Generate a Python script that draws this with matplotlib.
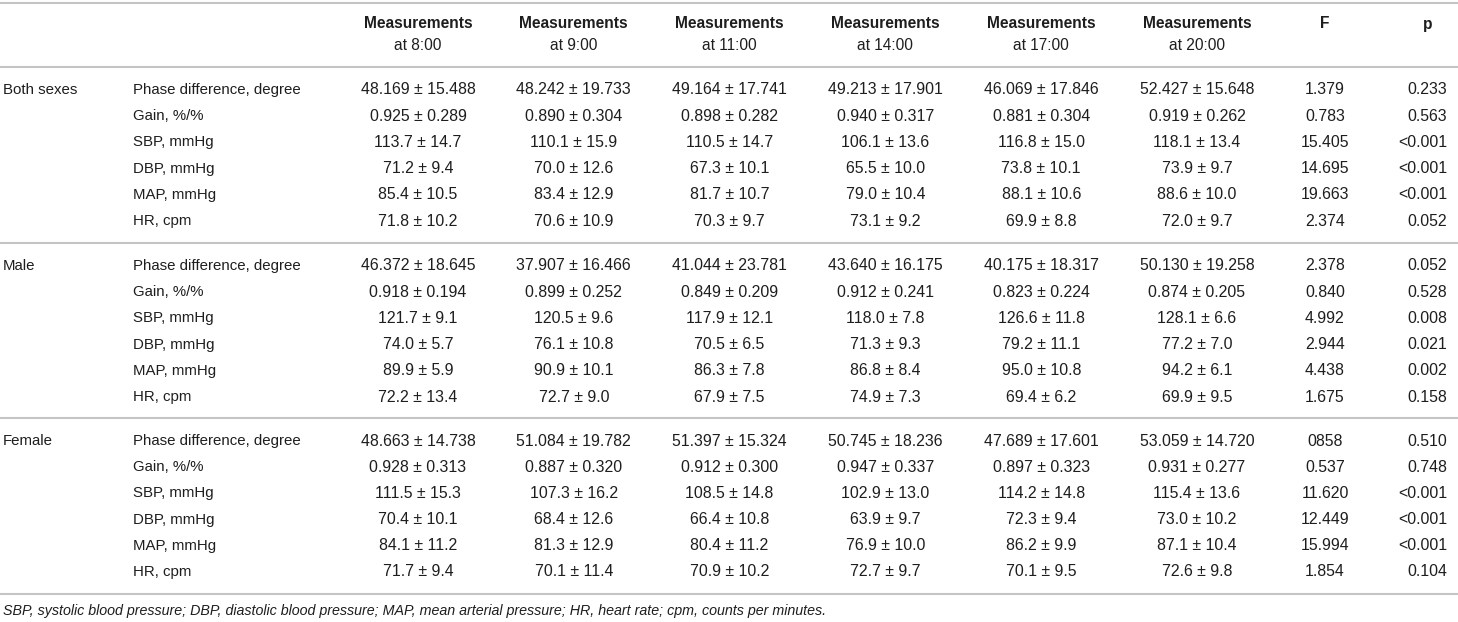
import matplotlib
matplotlib.use("Agg")
import matplotlib.pyplot as plt

# Table content.
groups = ["Both sexes", "Male", "Female"]
params = ["Phase difference, degree", "Gain, %/%", "SBP, mmHg",
          "DBP, mmHg", "MAP, mmHg", "HR, cpm"]
times = ["8:00", "9:00", "11:00", "14:00", "17:00", "20:00"]

both_vals = [
    ["48.169 ± 15.488", "48.242 ± 19.733", "49.164 ± 17.741", "49.213 ± 17.901", "46.069 ± 17.846", "52.427 ± 15.648"],
    ["0.925 ± 0.289", "0.890 ± 0.304", "0.898 ± 0.282", "0.940 ± 0.317", "0.881 ± 0.304", "0.919 ± 0.262"],
    ["113.7 ± 14.7", "110.1 ± 15.9", "110.5 ± 14.7", "106.1 ± 13.6", "116.8 ± 15.0", "118.1 ± 13.4"],
    ["71.2 ± 9.4", "70.0 ± 12.6", "67.3 ± 10.1", "65.5 ± 10.0", "73.8 ± 10.1", "73.9 ± 9.7"],
    ["85.4 ± 10.5", "83.4 ± 12.9", "81.7 ± 10.7", "79.0 ± 10.4", "88.1 ± 10.6", "88.6 ± 10.0"],
    ["71.8 ± 10.2", "70.6 ± 10.9", "70.3 ± 9.7", "73.1 ± 9.2", "69.9 ± 8.8", "72.0 ± 9.7"],
]
both_f = ["1.379", "0.783", "15.405", "14.695", "19.663", "2.374"]
both_p = ["0.233", "0.563", "<0.001", "<0.001", "<0.001", "0.052"]

male_vals = [
    ["46.372 ± 18.645", "37.907 ± 16.466", "41.044 ± 23.781", "43.640 ± 16.175", "40.175 ± 18.317", "50.130 ± 19.258"],
    ["0.918 ± 0.194", "0.899 ± 0.252", "0.849 ± 0.209", "0.912 ± 0.241", "0.823 ± 0.224", "0.874 ± 0.205"],
    ["121.7 ± 9.1", "120.5 ± 9.6", "117.9 ± 12.1", "118.0 ± 7.8", "126.6 ± 11.8", "128.1 ± 6.6"],
    ["74.0 ± 5.7", "76.1 ± 10.8", "70.5 ± 6.5", "71.3 ± 9.3", "79.2 ± 11.1", "77.2 ± 7.0"],
    ["89.9 ± 5.9", "90.9 ± 10.1", "86.3 ± 7.8", "86.8 ± 8.4", "95.0 ± 10.8", "94.2 ± 6.1"],
    ["72.2 ± 13.4", "72.7 ± 9.0", "67.9 ± 7.5", "74.9 ± 7.3", "69.4 ± 6.2", "69.9 ± 9.5"],
]
male_f = ["2.378", "0.840", "4.992", "2.944", "4.438", "1.675"]
male_p = ["0.052", "0.528", "0.008", "0.021", "0.002", "0.158"]

female_vals = [
    ["48.663 ± 14.738", "51.084 ± 19.782", "51.397 ± 15.324", "50.745 ± 18.236", "47.689 ± 17.601", "53.059 ± 14.720"],
    ["0.928 ± 0.313", "0.887 ± 0.320", "0.912 ± 0.300", "0.947 ± 0.337", "0.897 ± 0.323", "0.931 ± 0.277"],
    ["111.5 ± 15.3", "107.3 ± 16.2", "108.5 ± 14.8", "102.9 ± 13.0", "114.2 ± 14.8", "115.4 ± 13.6"],
    ["70.4 ± 10.1", "68.4 ± 12.6", "66.4 ± 10.8", "63.9 ± 9.7", "72.3 ± 9.4", "73.0 ± 10.2"],
    ["84.1 ± 11.2", "81.3 ± 12.9", "80.4 ± 11.2", "76.9 ± 10.0", "86.2 ± 9.9", "87.1 ± 10.4"],
    ["71.7 ± 9.4", "70.1 ± 11.4", "70.9 ± 10.2", "72.7 ± 9.7", "70.1 ± 9.5", "72.6 ± 9.8"],
]
female_f = ["0858", "0.537", "11.620", "12.449", "15.994", "1.854"]
female_p = ["0.510", "0.748", "<0.001", "<0.001", "<0.001", "0.104"]

footnote = ("SBP, systolic blood pressure; DBP, diastolic blood pressure; "
            "MAP, mean arterial pressure; HR, heart rate; cpm, counts per minutes.")

# Layout (pixel coordinates, y downward)
W, H = 1458, 622
FONT = "Liberation Sans"
FS = 10.8       # row labels
FS_NUM = 11.4   # numbers
FS_HEAD = 11.2
TXT = "#1e1e1e"
LINE = "#c4c4c4"
col_x = [418 + 155.8 * i for i in range(len(times))]
f_x = 1325
p_x = 1447
sect_top = [67, 243, 418]
row_h = 26.2

fig = plt.figure(figsize=(W / 100, H / 100), dpi=100)
ax = fig.add_axes([0, 0, 1, 1])
ax.set_xlim(0, W)
ax.set_ylim(H, 0)
ax.axis("off")

for y in [3] + sect_top + [594]:
    ax.axhline(y, color=LINE, lw=1.5)

# header
for x, t in zip(col_x, times):
    ax.text(x, 24, "Measurements", ha="center", va="center",
            fontsize=FS_HEAD, fontweight="bold", family=FONT, color=TXT)
    ax.text(x, 46, "at " + t, ha="center", va="center",
            fontsize=FS_HEAD, family=FONT, color=TXT)
ax.text(f_x, 24, "F", ha="center", va="center", fontsize=FS_HEAD,
        fontweight="bold", family=FONT, color=TXT)
ax.text(1428, 24, "p", ha="center", va="center", fontsize=FS_HEAD,
        fontweight="bold", family=FONT, color=TXT)

sections = [(both_vals, both_f, both_p),
            (male_vals, male_f, male_p),
            (female_vals, female_f, female_p)]

for g, (name, (vals, fs, ps)) in enumerate(zip(groups, sections)):
    for r, param in enumerate(params):
        y = sect_top[g] + 23 + row_h * r
        if r == 0:
            ax.text(3, y, name, ha="left", va="center", fontsize=FS,
                    family=FONT, color=TXT)
        ax.text(133, y, param, ha="left", va="center", fontsize=FS,
                family=FONT, color=TXT)
        for x, v in zip(col_x, vals[r]):
            ax.text(x, y, v, ha="center", va="center", fontsize=FS_NUM,
                    family=FONT, color=TXT)
        ax.text(f_x, y, fs[r], ha="center", va="center", fontsize=FS_NUM,
                family=FONT, color=TXT)
        ax.text(p_x, y, ps[r], ha="right", va="center", fontsize=FS_NUM,
                family=FONT, color=TXT)

ax.text(3, 611, footnote, ha="left", va="center", fontsize=10.3,
        style="italic", family=FONT, color=TXT)

fig.savefig("out.png", dpi=100)
